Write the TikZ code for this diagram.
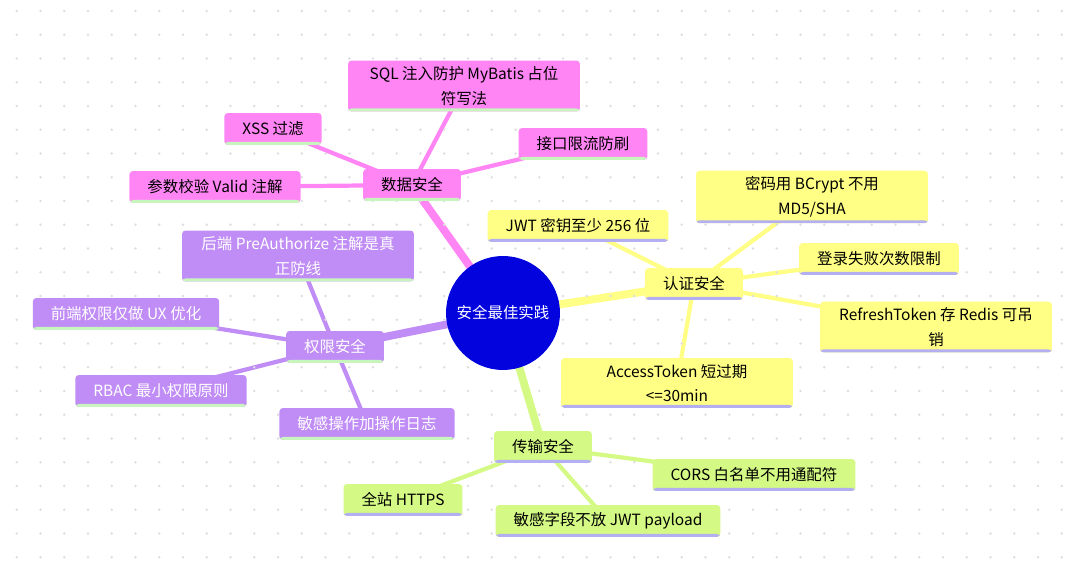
\documentclass[tikz,border=0pt]{standalone}
\usepackage{fontspec}
\setmainfont{Noto Sans CJK SC}
\usepackage{tikz}
\usetikzlibrary{backgrounds,positioning}
\definecolor{rootBlue}{RGB}{3,3,222}
\definecolor{dataPink}{RGB}{255,133,245}
\definecolor{authYellow}{RGB}{255,255,133}
\definecolor{permPurple}{RGB}{192,140,245}
\definecolor{tranGreen}{RGB}{212,250,133}
\definecolor{bandGreen}{RGB}{200,245,190}
\definecolor{bandLav}{RGB}{180,175,240}
\colorlet{gridDot}{black!13}

\begin{document}
\begin{tikzpicture}[x=0.02cm, y=-0.02cm,
    font=\fontsize{8.8pt}{14pt}\selectfont,
    leaf/.style={rounded corners=2pt, inner xsep=0.36cm, inner ysep=0.12cm, minimum height=0.64cm, align=center},
    wide/.style={minimum width=4.64cm},
    band/.style={path picture={\fill[#1] ([yshift=0.06cm]path picture bounding box.south west) rectangle (path picture bounding box.south east);}},
    dataBox/.style={leaf, fill=dataPink, band=bandGreen},
    authBox/.style={leaf, fill=authYellow, band=bandLav},
    permBox/.style={leaf, fill=permPurple, text=white, band=bandGreen},
    tranBox/.style={leaf, fill=tranGreen, band=bandLav},
    trunk/.style={line width=4.5pt},
    twig/.style={line width=2.4pt}]
        \useasboundingbox (0,0) rectangle (1080,574);
        % Dotted background
        \foreach \i in {0,...,44}
          \foreach \j in {0,...,23}
            \fill[gridDot] ({16.7+23.75*\i},{11+23.75*\j}) circle (0.8pt);
        % Root
        \node[circle, fill=rootBlue, text=white, minimum size=2.28cm, inner sep=0pt] (root) at (503,313) {安全最佳实践};
        % Data security
        \node[dataBox] (data) at (412,185) {数据安全};
        \node[dataBox, wide] (sql) at (464,86) {SQL 注入防护 MyBatis 占位\\符写法};
        \node[dataBox] (rate) at (583,144) {接口限流防刷};
        \node[dataBox] (xss) at (273,129) {XSS 过滤};
        \node[dataBox] (valid) at (215,187) {参数校验 Valid 注解};
        % Authentication
        \node[authBox] (auth) at (694,284) {认证安全};
        \node[authBox] (jwtkey) at (578,226) {JWT 密钥至少 256 位};
        \node[authBox, wide] (bcrypt) at (812,197) {密码用 BCrypt 不用\\MD5/SHA};
        \node[authBox] (login) at (879,259) {登录失败次数限制};
        \node[authBox, wide] (refresh) at (936,327) {RefreshToken 存 Redis 可吊\\销};
        \node[authBox, wide] (access) at (677,383) {AccessToken 短过期\\<=30min};
        % Permissions
        \node[permBox] (perm) at (335,347) {权限安全};
        \node[permBox, wide] (preauth) at (298,256) {后端 PreAuthorize 注解是真\\正防线};
        \node[permBox] (ux) at (126,314) {前端权限仅做 UX 优化};
        \node[permBox] (rbac) at (161,391) {RBAC 最小权限原则};
        \node[permBox] (audit) at (367,424) {敏感操作加操作日志};
        % Transport
        \node[tranBox] (tran) at (543,447) {传输安全};
        \node[tranBox] (https) at (403,500) {全站 HTTPS};
        \node[tranBox] (cors) at (754,475) {CORS 白名单不用通配符};
        \node[tranBox] (payload) at (608,521) {敏感字段不放 JWT payload};
        % Branches behind the nodes
        \begin{scope}[on background layer]
          \draw[trunk, dataPink] (root.center) -- (data.center);
          \draw[trunk, authYellow] (root.center) -- (auth.center);
          \draw[trunk, permPurple] (root.center) -- (perm.center);
          \draw[trunk, tranGreen] (root.center) -- (tran.center);
          \foreach \leaf in {sql,rate,xss,valid}
            \draw[twig, dataPink] (data.center) -- (\leaf.center);
          \foreach \leaf in {jwtkey,bcrypt,login,refresh,access}
            \draw[twig, authYellow] (auth.center) -- (\leaf.center);
          \foreach \leaf in {preauth,ux,rbac,audit}
            \draw[twig, permPurple] (perm.center) -- (\leaf.center);
          \foreach \leaf in {https,cors,payload}
            \draw[twig, tranGreen] (tran.center) -- (\leaf.center);
        \end{scope}
\end{tikzpicture}
\end{document}
